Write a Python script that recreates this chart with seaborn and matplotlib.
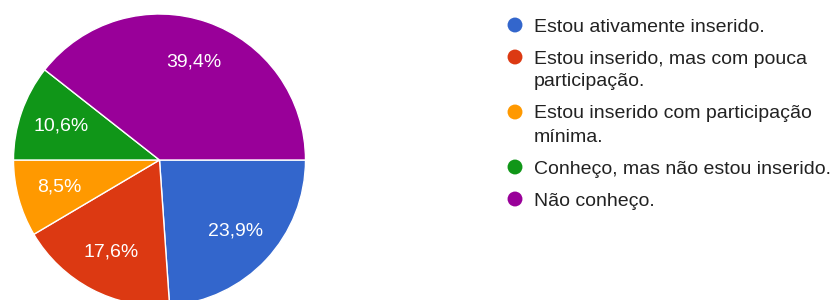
import matplotlib
matplotlib.use('Agg')
import matplotlib.pyplot as plt
import seaborn as sns

# dados
categorias = [
    'Estou ativamente inserido.',
    'Estou inserido, mas com pouca\nparticipação.',
    'Estou inserido com participação\nmínima.',
    'Conheço, mas não estou inserido.',
    'Não conheço.',
]
percentuais = [23.9, 17.6, 8.5, 10.6, 39.4]
cores = ['#3366cc', '#dc3912', '#ff9900', '#109618', '#990099']

sns.set_style('white')
plt.rcParams['font.family'] = ['Liberation Sans', 'DejaVu Sans']

W, H = 839, 300
fig = plt.figure(figsize=(W / 100, H / 100), dpi=100)

# pizza: centro ~(159.5, 160) px, raio ~146 px
r = 146
cx, cy = 159.5, H - 160
ax = fig.add_axes([(cx - r) / W, (cy - r) / H, 2 * r / W, 2 * r / H])
ax.pie(
    percentuais,
    colors=cores,
    startangle=0,
    counterclock=False,
    autopct=lambda p: f'{p:.1f}%'.replace('.', ','),
    pctdistance=0.71,
    wedgeprops=dict(edgecolor='white', linewidth=1),
    textprops=dict(color='white', fontsize=14),
)
ax.set_xlim(-1, 1)
ax.set_ylim(-1, 1)
ax.set_aspect('equal')

# legenda manual, com o marcador alinhado à primeira linha
leg = fig.add_axes([0, 0, 1, 1])
leg.set_xlim(0, W)
leg.set_ylim(H, 0)
leg.axis('off')
y = 25
line_h = 23
for label, cor in zip(categorias, cores):
    leg.scatter([515], [y], s=115, color=cor, edgecolors='none')
    linhas = label.split('\n')
    for i, linha in enumerate(linhas):
        leg.text(534, y + i * line_h, linha, fontsize=14, color='#222222',
                 va='center_baseline', ha='left')
    y += len(linhas) * line_h + 9

fig.savefig('out.png', dpi=100)
